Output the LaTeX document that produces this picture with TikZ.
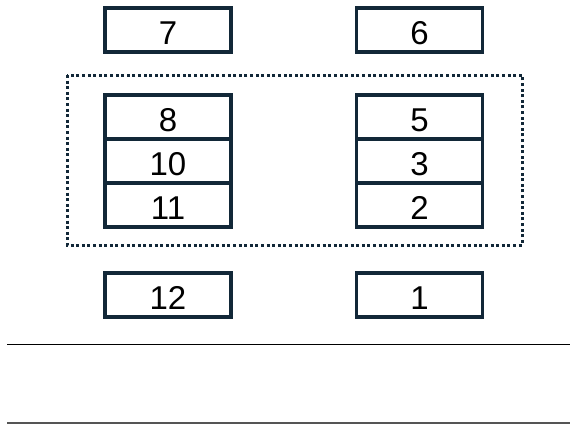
\documentclass[tikz,border=0pt]{standalone}
\usepackage{fontspec}
\setmainfont{Liberation Sans}
\definecolor{boxline}{RGB}{18,40,56}
\definecolor{rulegray}{RGB}{85,85,85}
\begin{document}
\begin{tikzpicture}[x=1pt,y=-1pt,
  cell/.style={draw=boxline, line width=3.6pt, fill=white, minimum width=126pt, minimum height=44pt,
    inner sep=0pt, font=\fontsize{33}{33}\selectfont, text height=29pt, text depth=0pt},
  groupframe/.style={draw=boxline, line width=3pt, dash pattern=on 3pt off 2.6pt},
  rule/.style={line width=1.8pt}]
\useasboundingbox (0,0) rectangle (580,432);
% dotted group frame
\coordinate (gtl) at (67,75);
\coordinate (gbr) at (522,245);
\draw[groupframe] (gtl) rectangle (gbr);
% top row
\node[cell] (n7) at (168,30) {7};
\node[cell] (n6) at (419.5,30) {6};
% stacks
\node[cell] (n8) at (168,117) {8};
\node[cell] (n10) at (168,161) {10};
\node[cell] (n11) at (168,205) {11};
\node[cell] (n5) at (419.5,117) {5};
\node[cell] (n3) at (419.5,161) {3};
\node[cell] (n2) at (419.5,205) {2};
% bottom row
\node[cell] (n12) at (168,295) {12};
\node[cell] (n1) at (419.5,295) {1};
% rules
\coordinate (r1a) at (7,344.5);
\coordinate (r1b) at (570,344.5);
\coordinate (r2a) at (7,423);
\coordinate (r2b) at (570,423);
\draw[rule, black] (r1a) -- (r1b);
\draw[rule, rulegray] (r2a) -- (r2b);
\end{tikzpicture}
\end{document}
